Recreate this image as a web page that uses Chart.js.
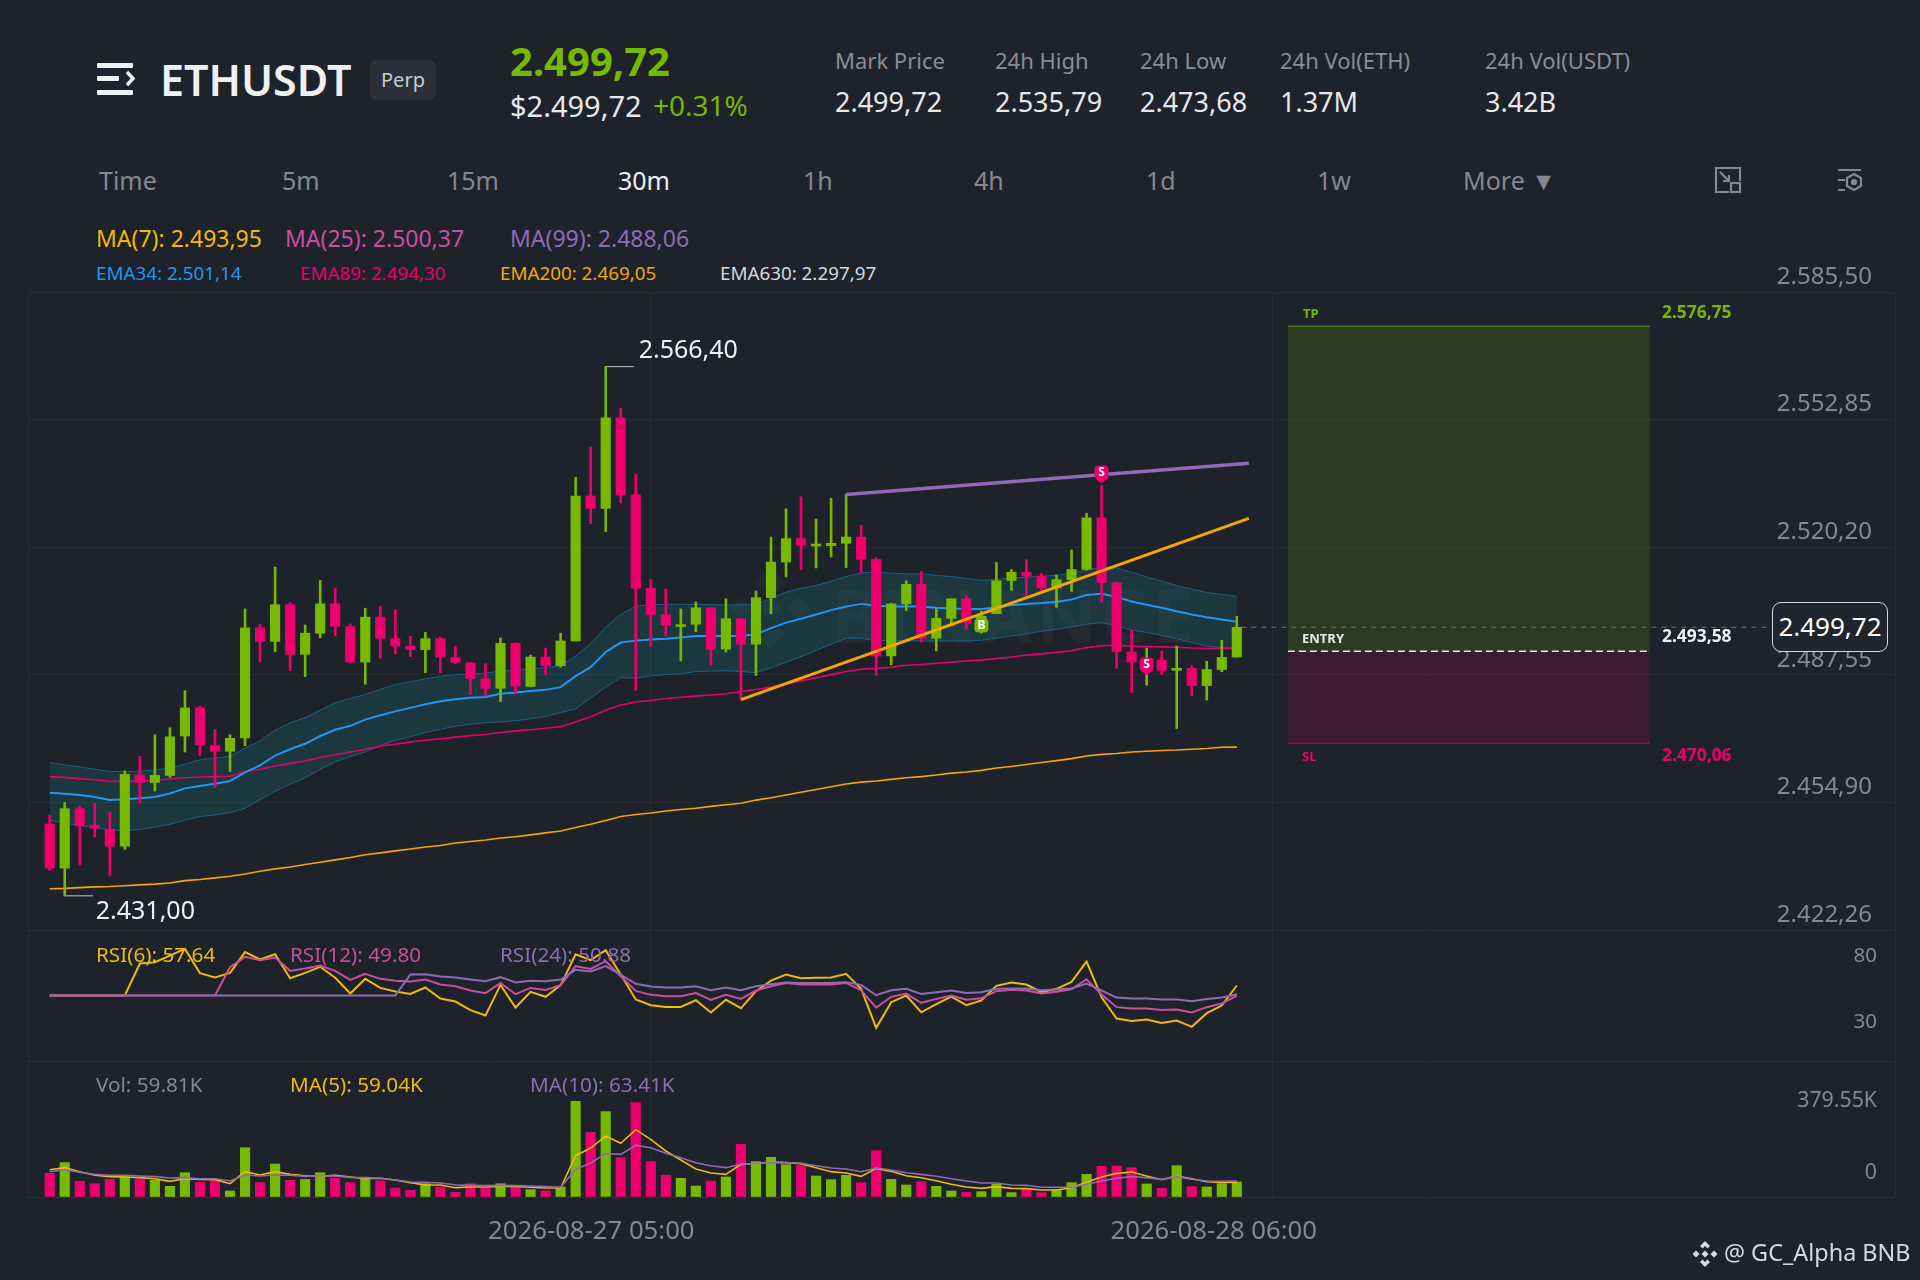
<!DOCTYPE html>
<html>
<head>
<meta charset="utf-8">
<title>ETHUSDT Perp</title>
<script src="https://cdn.jsdelivr.net/npm/chart.js@4"></script>
<style>
html, body { margin: 0; padding: 0; background: #1e222a; }
#page { position: relative; width: 1920px; height: 1280px; overflow: hidden; background: #1e222a; font-family: "Noto Sans", sans-serif; color: #e8e8ea; }
#page canvas { position: absolute; left: 0; }
.t { position: absolute; white-space: nowrap; line-height: 1; transform: translateY(-50%); }
.lbl { color: #8a8d93; font-size: 22px; }
.val { color: #e8e8ea; font-size: 27px; }
.tab { color: #85888e; font-size: 25px; }
.ma { font-size: 23px; }
.ema { font-size: 18.8px; }
.pane { font-size: 20.7px; }
.zone { font-weight: 700; font-size: 13px; }
.zoneval { font-weight: 700; font-size: 17.4px; }
#perp { position: absolute; left: 370px; top: 60px; width: 66px; height: 40px; border-radius: 6px; background: #2b2f37; color: #c9cbd0; font-size: 20px; text-align: center; line-height: 40px; }
#lastbox { position: absolute; left: 1772px; top: 602px; width: 114px; height: 48px; border: 1.5px solid #d5d6d9; border-radius: 9px; background: #20242c; color: #fff; font-size: 26px; text-align: center; line-height: 47px; }
#mark { position: absolute; left: 831px; top: 578px; font-size: 74px; font-weight: 700; line-height: 1; letter-spacing: 4px; color: rgba(255,255,255,0.035); }
</style>
</head>
<body>
<div id="page">
  <svg style="position:absolute;left:96px;top:61px" width="40" height="36" viewBox="0 0 40 36">
    <g fill="#f0f0f2"><rect x="1" y="2" width="36" height="5" rx="1"/><rect x="1" y="15" width="22" height="5" rx="1"/><rect x="1" y="29" width="36" height="5" rx="1"/></g>
    <path d="M31 11 L37 17.5 L31 24" fill="none" stroke="#f0f0f2" stroke-width="3.4"/>
  </svg>
  <div class="t" style="left:160px;top:79px;font-size:43px;font-weight:600;color:#f0f0f2">ETHUSDT</div>
  <div id="perp">Perp</div>
  <div class="t" style="left:510px;top:61px;font-size:40px;font-weight:700;color:#76b900">2.499,72</div>
  <div class="t" style="left:510px;top:105px;font-size:29px">$2.499,72</div>
  <div class="t" style="left:653px;top:105px;font-size:28px;color:#76b900">+0.31%</div>

  <div class="t lbl" style="left:835px;top:60px">Mark Price</div>
  <div class="t lbl" style="left:995px;top:60px">24h High</div>
  <div class="t lbl" style="left:1140px;top:60px">24h Low</div>
  <div class="t lbl" style="left:1280px;top:60px">24h Vol(ETH)</div>
  <div class="t lbl" style="left:1485px;top:60px">24h Vol(USDT)</div>
  <div class="t val" style="left:835px;top:101px">2.499,72</div>
  <div class="t val" style="left:995px;top:101px">2.535,79</div>
  <div class="t val" style="left:1140px;top:101px">2.473,68</div>
  <div class="t val" style="left:1280px;top:101px">1.37M</div>
  <div class="t val" style="left:1485px;top:101px">3.42B</div>

  <div class="t tab" style="left:99px;top:180px">Time</div>
  <div class="t tab" style="left:282px;top:180px">5m</div>
  <div class="t tab" style="left:447px;top:180px">15m</div>
  <div class="t tab" style="left:618px;top:180px;color:#f0f0f2">30m</div>
  <div class="t tab" style="left:803px;top:180px">1h</div>
  <div class="t tab" style="left:974px;top:180px">4h</div>
  <div class="t tab" style="left:1146px;top:180px">1d</div>
  <div class="t tab" style="left:1317px;top:180px">1w</div>
  <div class="t tab" style="left:1463px;top:180px">More ▼</div>
  <svg style="position:absolute;left:1714px;top:166px" width="28" height="28" viewBox="0 0 28 28" fill="none" stroke="#85888e" stroke-width="2.2">
    <path d="M15 26 H2 V2 H26 V15"/><rect x="17" y="17" width="9" height="9"/><path d="M6 6 L15 15 M9 15 H15 V9"/>
  </svg>
  <svg style="position:absolute;left:1836px;top:166px" width="28" height="28" viewBox="0 0 28 28" fill="none" stroke="#85888e" stroke-width="2.2">
    <path d="M2 4 H25 M2 14 H9 M2 24 H9"/><path d="M18 8 L25 12 V20 L18 24 L11 20 V12 Z"/><circle cx="18" cy="16" r="2" fill="#85888e"/>
  </svg>

  <div class="t ma" style="left:96px;top:238px;color:#f0b90b">MA(7): 2.493,95</div>
  <div class="t ma" style="left:285px;top:238px;color:#c84f9e">MA(25): 2.500,37</div>
  <div class="t ma" style="left:510px;top:238px;color:#8e6bb5">MA(99): 2.488,06</div>
  <div class="t ema" style="left:96px;top:273px;color:#2196f3">EMA34: 2.501,14</div>
  <div class="t ema" style="left:300px;top:273px;color:#e6006e">EMA89: 2.494,30</div>
  <div class="t ema" style="left:500px;top:273px;color:#f7a600">EMA200: 2.469,05</div>
  <div class="t ema" style="left:720px;top:273px;color:#d8d8da">EMA630: 2.297,97</div>

  <svg style="position:absolute;left:725px;top:563px" width="90" height="90" viewBox="0 0 28 28" fill="rgba(255,255,255,0.03)">
    <path d="M14 1 L19 6 L16.5 8.5 L14 6 L11.5 8.5 L9 6 Z M14 27 L9 22 L11.5 19.5 L14 22 L16.5 19.5 L19 22 Z M14 10.5 L17.5 14 L14 17.5 L10.5 14 Z M5 10.5 L8.5 14 L5 17.5 L1.5 14 Z M23 10.5 L26.5 14 L23 17.5 L19.5 14 Z"/>
  </svg>
  <div id="mark">BINANCE</div>

  <canvas id="priceChart" width="1920" height="690" style="top:250px"></canvas>
  <canvas id="rsiChart" width="1920" height="152" style="top:920px"></canvas>
  <canvas id="volChart" width="1920" height="188" style="top:1052px"></canvas>

  <div class="t zone" style="left:1303px;top:313px;color:#76b900">TP</div>
  <div class="t zoneval" style="left:1662px;top:312px;color:#76b900">2.576,75</div>
  <div class="t zone" style="left:1302px;top:638px;color:#e8e8ea">ENTRY</div>
  <div class="t zoneval" style="left:1662px;top:636px;color:#f0f0f2">2.493,58</div>
  <div class="t zone" style="left:1302px;top:756px;color:#ed006e">SL</div>
  <div class="t zoneval" style="left:1662px;top:755px;color:#ed006e">2.470,06</div>
  <div id="lastbox">2.499,72</div>

  <div class="t pane" style="left:96px;top:954px;color:#f0b90b">RSI(6): 57.64</div>
  <div class="t pane" style="left:290px;top:954px;color:#c84f9e">RSI(12): 49.80</div>
  <div class="t pane" style="left:500px;top:954px;color:#8e6bb5">RSI(24): 50.88</div>
  <div class="t pane" style="left:96px;top:1084px;color:#85888e">Vol: 59.81K</div>
  <div class="t pane" style="left:290px;top:1084px;color:#f0b90b">MA(5): 59.04K</div>
  <div class="t pane" style="left:530px;top:1084px;color:#8e6bb5">MA(10): 63.41K</div>

  <svg style="position:absolute;left:1691px;top:1240px" width="28" height="28" viewBox="0 0 28 28" fill="#d8d9dc">
    <path d="M14 1 L19 6 L16.5 8.5 L14 6 L11.5 8.5 L9 6 Z M14 27 L9 22 L11.5 19.5 L14 22 L16.5 19.5 L19 22 Z M14 10.5 L17.5 14 L14 17.5 L10.5 14 Z M5 10.5 L8.5 14 L5 17.5 L1.5 14 Z M23 10.5 L26.5 14 L23 17.5 L19.5 14 Z"/>
  </svg>
  <div class="t" style="left:1724px;top:1253px;font-size:23.4px;color:#d8d9dc">@ GC_Alpha BNB</div>
</div>

<script>
// 30m candles
const opens = [2449.4,2438.1,2453.3,2449.0,2448.1,2443.7,2461.9,2460.0,2461.8,2471.9,2479.1,2469.5,2468.0,2471.4,2499.6,2496.1,2505.5,2492.8,2498.2,2505.7,2499.9,2490.8,2502.3,2496.8,2494.9,2494.0,2496.8,2492.0,2490.6,2486.5,2484.1,2495.6,2484.6,2492.1,2489.9,2496.2,2533.3,2530.1,2553.3,2533.6,2509.7,2502.9,2499.9,2500.5,2504.7,2494.1,2501.9,2495.4,2507.3,2516.4,2522.4,2520.5,2520.6,2521.2,2522.8,2517.1,2492.4,2505.7,2510.7,2496.9,2502.0,2507.0,2500.9,2503.2,2511.7,2513.8,2512.8,2509.8,2511.9,2514.5,2527.7,2511.1,2493.4,2489.5,2491.3,2488.7,2489.2,2484.8,2488.9,2492.1];
const highs = [2451.6,2454.9,2453.9,2454.7,2452.5,2463.0,2466.7,2472.2,2474.0,2483.5,2479.6,2473.6,2472.2,2504.4,2500.5,2515.1,2506.0,2500.3,2511.7,2509.7,2500.6,2504.6,2505.1,2504.2,2497.4,2498.4,2497.2,2494.8,2490.6,2490.4,2497.0,2495.8,2492.6,2494.4,2498.2,2538.1,2545.8,2566.4,2555.8,2538.9,2511.9,2509.5,2504.4,2506.2,2504.7,2507.0,2501.9,2509.0,2522.8,2530.0,2533.1,2527.4,2532.7,2533.7,2525.8,2517.5,2505.9,2511.6,2514.0,2504.5,2507.0,2507.8,2503.9,2516.3,2514.5,2517.0,2513.5,2513.1,2519.5,2528.9,2535.9,2511.3,2498.9,2494.4,2493.6,2494.9,2489.9,2491.0,2496.4,2502.5];
const lows = [2437.5,2431.0,2438.9,2446.1,2436.2,2442.9,2454.7,2457.8,2461.3,2467.8,2466.9,2458.7,2462.8,2469.4,2490.8,2493.5,2488.6,2487.1,2497.0,2497.5,2490.6,2485.1,2491.8,2493.0,2492.2,2488.1,2488.1,2490.4,2482.5,2482.2,2480.7,2482.7,2484.5,2487.6,2489.5,2496.2,2526.2,2524.2,2531.5,2483.6,2494.8,2497.5,2491.1,2498.6,2490.1,2493.4,2481.1,2487.4,2503.2,2512.6,2514.4,2514.9,2517.7,2515.0,2513.8,2487.4,2490.1,2504.0,2495.9,2493.7,2500.5,2499.2,2498.2,2503.2,2509.2,2507.6,2508.3,2504.8,2508.9,2514.3,2506.2,2489.2,2483.0,2484.9,2487.6,2473.8,2482.2,2481.1,2488.35,2492.1];
const closes = [2438.1,2453.3,2448.9,2448.3,2443.7,2462.1,2460.0,2461.8,2471.7,2479.1,2469.6,2468.0,2471.3,2499.6,2496.1,2505.5,2492.8,2498.2,2505.7,2500.0,2490.8,2502.3,2496.9,2494.9,2494.0,2496.8,2492.1,2490.7,2486.6,2484.1,2495.6,2484.7,2492.1,2489.9,2496.2,2533.3,2530.1,2553.3,2533.6,2509.7,2502.9,2500.3,2500.3,2504.7,2494.1,2501.9,2495.4,2507.3,2516.4,2522.4,2520.7,2521.0,2521.2,2522.8,2517.1,2492.4,2505.7,2510.7,2496.9,2502.0,2507.0,2500.9,2502.5,2511.6,2513.8,2512.8,2509.8,2511.9,2514.5,2527.7,2511.1,2493.5,2490.8,2490.1,2488.7,2489.2,2484.8,2488.9,2492.0,2499.72];

const ema34 = [2457.4,2457.1,2456.8,2456.3,2455.5,2455.7,2456.0,2456.3,2457.2,2458.5,2459.1,2459.7,2460.4,2462.6,2464.4,2466.9,2468.5,2469.9,2471.9,2473.5,2474.5,2476.1,2477.2,2478.2,2479.1,2480.0,2480.8,2481.3,2481.7,2481.9,2482.7,2483.0,2483.4,2483.7,2484.4,2487.2,2489.5,2493.4,2495.8,2496.3,2496.6,2496.8,2497.1,2497.5,2497.5,2497.5,2497.5,2497.9,2499.5,2500.9,2501.9,2503.0,2504.1,2505.0,2505.7,2505.2,2505.0,2505.0,2505.0,2504.7,2504.5,2504.4,2504.4,2504.8,2505.4,2505.7,2505.9,2506.2,2506.8,2508.0,2508.3,2507.5,2506.3,2505.5,2504.7,2503.8,2503.0,2502.3,2501.7,2501.14];
const bandUpper = [2465.1,2464.5,2464.0,2463.4,2462.8,2462.8,2462.9,2463.2,2463.7,2464.7,2465.8,2466.3,2466.7,2468.8,2470.7,2473.4,2475.3,2476.6,2478.5,2480.4,2481.5,2482.5,2483.8,2485.1,2485.8,2486.5,2487.2,2487.6,2487.8,2488.0,2488.5,2488.7,2489.0,2489.4,2489.8,2492.4,2495.5,2499.8,2503.0,2505.1,2505.5,2505.6,2505.6,2505.5,2505.5,2505.4,2505.5,2505.5,2507.1,2508.7,2509.7,2510.4,2511.5,2512.7,2513.6,2513.9,2513.6,2513.4,2513.4,2513.0,2512.7,2512.2,2511.7,2512.0,2512.3,2512.5,2512.8,2513.0,2513.5,2514.3,2515.2,2514.9,2513.8,2512.6,2511.5,2510.4,2509.5,2508.6,2508.1,2507.6];
const bandLower = [2450.3,2449.6,2449.0,2448.5,2447.9,2447.6,2448.0,2448.6,2449.3,2450.4,2451.3,2451.7,2452.3,2453.4,2455.6,2457.8,2459.6,2461.2,2463.4,2465.3,2466.6,2467.8,2469.4,2470.8,2471.7,2472.8,2473.6,2474.4,2474.9,2475.3,2475.5,2475.8,2476.3,2476.9,2477.9,2478.8,2481.7,2484.4,2486.8,2486.7,2487.3,2487.6,2487.8,2488.4,2488.5,2488.6,2488.4,2488.1,2489.3,2490.8,2492.2,2493.8,2495.4,2496.9,2496.9,2496.3,2496.3,2496.3,2496.2,2496.2,2496.2,2496.2,2496.4,2496.9,2497.5,2498.0,2498.7,2499.2,2499.8,2500.5,2500.9,2500.1,2499.0,2498.4,2497.6,2496.8,2495.8,2494.9,2494.5,2494.3];
const ema89 = [2461.5,2461.3,2461.0,2460.7,2460.3,2460.3,2460.4,2460.5,2460.9,2461.2,2461.4,2461.5,2461.6,2462.8,2463.4,2464.2,2464.9,2465.5,2466.4,2467.1,2467.8,2468.5,2469.3,2469.8,2470.4,2470.8,2471.2,2471.6,2472.0,2472.3,2472.8,2473.2,2473.5,2473.9,2474.3,2475.5,2476.8,2478.5,2479.8,2480.6,2481.0,2481.5,2481.8,2482.1,2482.4,2482.7,2483.3,2483.8,2484.4,2485.2,2486.0,2486.8,2487.6,2488.4,2489.0,2489.2,2489.5,2490.0,2490.2,2490.5,2490.8,2491.1,2491.3,2491.7,2492.1,2492.6,2492.9,2493.3,2493.7,2494.5,2495.0,2495.1,2494.9,2494.8,2494.7,2494.6,2494.4,2494.3,2494.3,2494.3];
const ema200 = [2432.8,2432.9,2433.1,2433.3,2433.4,2433.6,2433.8,2434.0,2434.3,2434.9,2435.2,2435.6,2436.0,2436.6,2437.3,2437.9,2438.4,2439.0,2439.6,2440.2,2440.8,2441.5,2442.0,2442.5,2443.0,2443.5,2443.9,2444.5,2444.9,2445.3,2445.8,2446.1,2446.6,2447.1,2447.6,2448.5,2449.3,2450.3,2451.3,2451.8,2452.2,2452.7,2453.1,2453.4,2453.9,2454.3,2454.7,2455.5,2456.1,2456.8,2457.5,2458.2,2458.9,2459.6,2460.1,2460.4,2460.8,2461.2,2461.5,2461.9,2462.4,2462.7,2463.1,2463.7,2464.1,2464.6,2465.1,2465.6,2466.1,2466.8,2467.2,2467.4,2467.8,2468.0,2468.2,2468.3,2468.5,2468.7,2469.0,2469.05];

const rsi6 = [50,50,50,50,50,50,74.4,75.4,80.5,85.6,67.0,63.7,67.3,83.1,77.5,81.5,63.2,67.3,71.9,63.5,51.5,62.7,55.8,53.0,51.2,56.1,47.7,45.4,38.8,34.7,58.1,40.8,52.8,49.0,57.9,81.5,77.0,84.6,66.0,46.9,42.6,41.3,41.3,46.4,37.0,46.7,40.3,53.3,61.4,66.0,63.2,63.5,63.7,66.5,55.1,25.3,44.9,50.0,37.2,43.4,49.2,42.6,46.2,57.4,59.9,58.4,52.5,55.1,60.4,75.9,48.7,32.4,30.6,31.7,29.1,30.9,26.1,36.5,42.3,57.64];
const rsi12 = [50,50,50,50,50,50,50,50,50,50,50,50,71.6,79.5,77.0,79.0,68.8,70.6,72.9,68.8,61.9,66.5,62.7,61.2,60.7,62.2,58.4,57.1,53.8,51.8,59.6,51.0,55.8,54.3,57.9,72.4,70.3,76.2,64.7,53.5,50.5,49.5,49.5,51.8,46.7,50.5,47.4,53.8,57.1,59.6,58.4,58.4,58.4,59.6,54.0,40.8,49.0,51.5,44.4,47.4,50.0,46.7,47.9,53.3,54.3,53.8,51.5,52.8,54.8,62.4,50.7,41.1,40.0,40.0,39.0,39.3,37.0,41.1,43.9,49.80];
const rsi24 = [50,50,50,50,50,50,50,50,50,50,50,50,50,50,50,50,50,50,50,50,50,50,50,50,66.0,66.3,64.5,63.7,62.2,60.9,64.0,59.9,61.2,60.9,62.2,69.6,68.3,72.4,66.0,58.9,56.8,56.1,56.1,57.1,54.0,56.1,54.0,57.1,58.6,59.9,59.6,59.6,59.6,60.2,58.1,50.2,54.0,55.1,51.2,52.5,53.8,52.0,52.5,55.1,55.3,55.3,54.0,54.6,55.3,59.1,53.8,48.4,47.7,47.7,46.9,46.9,45.6,47.4,48.4,50.88];

// volume in thousands
const volume = [93.9,136.2,62.2,52.9,70.1,80.7,71.4,66.1,42.3,96.5,58.2,64.8,23.8,195.7,56.9,130.9,66.1,70.1,96.5,74.1,56.9,74.1,63.5,35.7,26.5,52.9,39.7,18.5,52.9,35.7,52.9,41.0,29.1,23.8,39.7,379.55,256.6,338.6,156.1,374.3,140.2,86.0,74.1,43.6,63.5,79.4,209.0,140.2,157.4,128.3,124.3,83.3,68.8,86.0,56.9,183.8,70.1,47.6,60.8,42.3,23.8,18.5,21.2,50.3,17.2,33.1,17.2,27.8,56.9,89.9,121.7,123.0,116.4,51.6,34.4,124.3,41.0,39.7,52.9,59.81];
const volMa5 = [108.4,116.4,100.5,86.0,80.7,79.4,76.7,72.7,62.2,72.7,70.1,68.8,52.9,100.5,87.3,100.5,89.9,84.6,82.0,86.0,79.4,72.7,74.1,67.4,56.9,47.6,47.6,37.0,39.7,39.7,42.3,42.3,38.4,35.7,35.7,164.0,194.4,242.0,212.9,267.1,228.8,182.5,146.8,111.1,95.2,89.9,129.6,132.3,138.9,136.2,132.3,116.4,100.5,95.2,82.0,113.7,101.8,84.6,76.7,64.8,50.3,39.7,34.4,41.0,34.4,33.1,27.8,27.8,37.0,58.2,79.4,93.9,99.2,83.3,68.8,83.3,72.7,60.8,58.2,59.04];
const volMa10 = [100.5,108.4,97.9,89.9,86.0,86.0,83.3,80.7,75.4,76.7,72.7,72.7,63.5,87.3,83.3,87.3,86.0,82.0,84.6,83.3,78.0,76.7,74.1,67.4,59.5,58.2,55.5,48.9,46.3,45.0,46.3,45.0,43.6,41.0,38.4,109.8,134.9,171.9,169.3,205.0,195.7,173.2,156.1,136.2,124.3,116.4,129.6,132.3,137.5,136.2,133.6,124.3,115.1,111.1,100.5,115.1,107.1,96.5,89.9,82.0,72.7,63.5,55.5,55.5,47.6,46.3,38.4,38.4,38.4,50.3,63.5,74.1,80.7,76.7,70.1,80.7,70.1,63.5,62.2,63.41];

const priceTicks = [2585.50, 2552.85, 2520.20, 2487.55, 2454.90, 2422.26];
const rsiTicks = [100, 80, 30, 0];
const volTicks = [0, 379.55];
const timeLabels = ['', '2026-08-27 05:00', '2026-08-28 06:00', ''];
const gridX = [-1.444, 39.97, 81.39, 122.8];

// drawn trend lines and the long position box
const orangeLineX = [46, 79.8];
const orangeLineY = [2481.2, 2527.6];
const purpleLineX = [53, 79.8];
const purpleLineY = [2533.7, 2541.7];
const zoneX = [82.4, 106.5];
const tpPrice = 2576.75;
const entryPrice = 2493.58;
const slPrice = 2470.06;
const lastPrice = 2499.72;
const lastLineX = [79.3, 114.3];

const highIdx = 37, highPrice = 2566.40;
const lowIdx = 1, lowPrice = 2431.00;

const sellMarkIdx = [70, 73];
const sellMarkPrice = [2536.5, 2487.4];
const buyMarkIdx = [62];
const buyMarkPrice = [2503.0];

const UP = '#76b900', DOWN = '#ed006e', GRID = '#282c35', PANE = '#2b2f38', TICK = '#85888e';
const TEAL = 'rgba(24,120,120,0.25)';

Chart.defaults.font.family = '"Noto Sans", sans-serif';
Chart.defaults.animation = false;

const fmtPrice = v => {
    const [a, b] = v.toFixed(2).split('.');
    return a.slice(0, 1) + '.' + a.slice(1) + ',' + b;
};
const pts = (xs, ys) => xs.map((x, i) => ({ x, y: ys[i] }));
const series = ys => ys.map((y, x) => ({ x, y }));
const line = (data, color, width, extra = {}) => ({
    type: 'line', data, borderColor: color, borderWidth: width, pointRadius: 0, tension: 0, fill: false, order: 5, ...extra
});
const candleColor = ctx => (closes[ctx.dataIndex] >= opens[ctx.dataIndex] ? UP : DOWN);

const xScale = (extra = {}) => ({
    type: 'linear', min: gridX[0], max: gridX[3], offset: false,
    afterBuildTicks: s => { s.ticks = gridX.map(value => ({ value })); },
    ticks: { display: false, autoSkip: false },
    grid: { color: GRID, drawTicks: false, offset: false },
    border: { display: false },
    ...extra
});
const yScale = (min, max, ticks, font, padding, gridColor, extra = {}) => ({
    position: 'right', min, max,
    afterBuildTicks: s => { s.ticks = ticks.map(value => ({ value })); },
    afterFit: s => { s.width = 0; },
    grid: { color: gridColor, drawTicks: false },
    border: { display: false },
    ...extra,
    ticks: { mirror: true, padding, color: TICK, font, autoSkip: false, ...extra.ticks }
});

// labels for the extremes, and the B / S pins
const overlays = {
    id: 'overlays',
    afterDatasetsDraw(chart) {
        const { ctx, scales: { x, y } } = chart;
        ctx.save();
        ctx.fillStyle = '#f0f0f2';
        ctx.font = '25px "Noto Sans"';
        ctx.textBaseline = 'middle';
        ctx.fillText(fmtPrice(highPrice), x.getPixelForValue(highIdx) + 33, y.getPixelForValue(highPrice) - 16);
        ctx.fillText(fmtPrice(lowPrice), x.getPixelForValue(lowIdx) + 31, y.getPixelForValue(lowPrice) + 16);
        const pin = (i, price, color, letter, dir) => {
            const px = x.getPixelForValue(i), py = y.getPixelForValue(price);
            const cy = py + dir * 11;
            ctx.fillStyle = color;
            ctx.beginPath();
            ctx.moveTo(px, py);
            ctx.lineTo(px + 6, py + dir * 5);
            ctx.lineTo(px - 6, py + dir * 5);
            ctx.fill();
            ctx.beginPath();
            ctx.roundRect(px - 7, cy - 7, 14, 14, 4);
            ctx.fill();
            ctx.fillStyle = '#fff';
            ctx.font = '700 12px "Noto Sans"';
            ctx.textAlign = 'center';
            ctx.fillText(letter, px, cy + 0.5);
            ctx.textAlign = 'left';
        };
        sellMarkIdx.forEach((i, k) => pin(i, sellMarkPrice[k], DOWN, 'S', -1));
        buyMarkIdx.forEach((i, k) => pin(i, buyMarkPrice[k], UP, 'B', 1));
        ctx.restore();
    }
};

new Chart(document.getElementById('priceChart'), {
    type: 'bar',
    data: {
        datasets: [
            line(series(bandUpper), '#1d5d8c', 1, { fill: { target: '+1' }, backgroundColor: TEAL, order: 9 }),
            line(series(bandLower), '#1d5d8c', 1, { order: 9 }),
            line(series(ema34), '#2196f3', 2, { order: 6 }),
            line(series(ema89), '#e6006e', 1.6, { order: 6 }),
            line(series(ema200), '#f7a600', 1.6, { order: 6 }),
            line(pts(zoneX, [tpPrice, tpPrice]), 'rgba(118,185,0,0.55)', 1.5, { fill: { value: entryPrice }, backgroundColor: 'rgba(118,185,0,0.17)', order: 8 }),
            line(pts(zoneX, [slPrice, slPrice]), 'rgba(237,0,110,0.55)', 1.5, { fill: { value: entryPrice }, backgroundColor: 'rgba(237,0,110,0.15)', order: 8 }),
            line(pts(zoneX, [entryPrice, entryPrice]), '#e8e8ea', 1.6, { borderDash: [7, 4], order: 2 }),
            line(pts(lastLineX, [lastPrice, lastPrice]), '#6f737b', 1.2, { borderDash: [5, 5], order: 4 }),
            line(pts([highIdx, highIdx + 1.87], [highPrice, highPrice]), '#c5c6ca', 1, { order: 4 }),
            line(pts([lowIdx, lowIdx + 1.87], [lowPrice, lowPrice]), '#c5c6ca', 1, { order: 4 }),
            {
                data: series(highs).map((p, i) => ({ x: i, y: [lows[i], highs[i]] })),
                backgroundColor: candleColor, barThickness: 2, grouped: false, order: 3
            },
            {
                data: series(opens).map((p, i) => ({ x: i, y: [opens[i], closes[i]] })),
                backgroundColor: candleColor, barThickness: 9.5, grouped: false, minBarLength: 2, order: 3
            },
            line(pts(orangeLineX, orangeLineY), '#f7a600', 3, { order: 1 }),
            line(pts(purpleLineX, purpleLineY), '#9468b8', 3.4, { order: 1 })
        ]
    },
    options: {
        responsive: false,
        layout: { padding: { left: 28, right: 25, top: 42, bottom: 10 } },
        plugins: { legend: { display: false }, tooltip: { enabled: false } },
        scales: {
            x: xScale(),
            y: yScale(priceTicks[5], priceTicks[0], priceTicks, { size: 24 }, -23, GRID, {
                ticks: { labelOffset: -15, callback: v => fmtPrice(v) }
            })
        }
    },
    plugins: [overlays]
});

new Chart(document.getElementById('rsiChart'), {
    type: 'line',
    data: {
        datasets: [
            line(series(rsi6), '#f0b90b', 2, { order: 3 }),
            line(series(rsi12), '#c84f9e', 2, { order: 2 }),
            line(series(rsi24), '#8e6bb5', 2, { order: 1 })
        ]
    },
    options: {
        responsive: false,
        layout: { padding: { left: 28, right: 25, top: 10, bottom: 11 } },
        plugins: { legend: { display: false }, tooltip: { enabled: false } },
        scales: {
            x: xScale(),
            y: yScale(0, 100, rsiTicks, { size: 20.5 }, -18,
                c => (c.tick.value === 0 || c.tick.value === 100 ? PANE : 'transparent'), {
                ticks: { callback: v => (v === 80 || v === 30 ? String(v) : '') }
            })
        }
    }
});

new Chart(document.getElementById('volChart'), {
    type: 'bar',
    data: {
        datasets: [
            {
                data: series(volume),
                backgroundColor: candleColor, barThickness: 9.5, grouped: false, order: 7
            },
            line(series(volMa5), '#f0b90b', 1.6, { order: 2 }),
            line(series(volMa10), '#8e6bb5', 1.6, { order: 1 })
        ]
    },
    options: {
        responsive: false,
        layout: { padding: { left: 28, right: 25, top: 10, bottom: 0 } },
        plugins: { legend: { display: false }, tooltip: { enabled: false } },
        scales: {
            x: xScale({
                afterFit: s => { s.height = 43; },
                ticks: {
                    display: true, autoSkip: false, maxRotation: 0, labelOffset: -59, padding: 19,
                    color: TICK, font: { size: 25.7 },
                    callback: (v, i) => timeLabels[i]
                }
            }),
            y: yScale(0, 535.6, volTicks, { size: 21.3, lineHeight: 1.13 }, -18,
                c => (c.tick.value === 0 ? PANE : 'transparent'), {
                ticks: { callback: v => (v === 0 ? ['0', '', ''] : v.toFixed(2) + 'K') }
            })
        }
    }
});
</script>
</body>
</html>
